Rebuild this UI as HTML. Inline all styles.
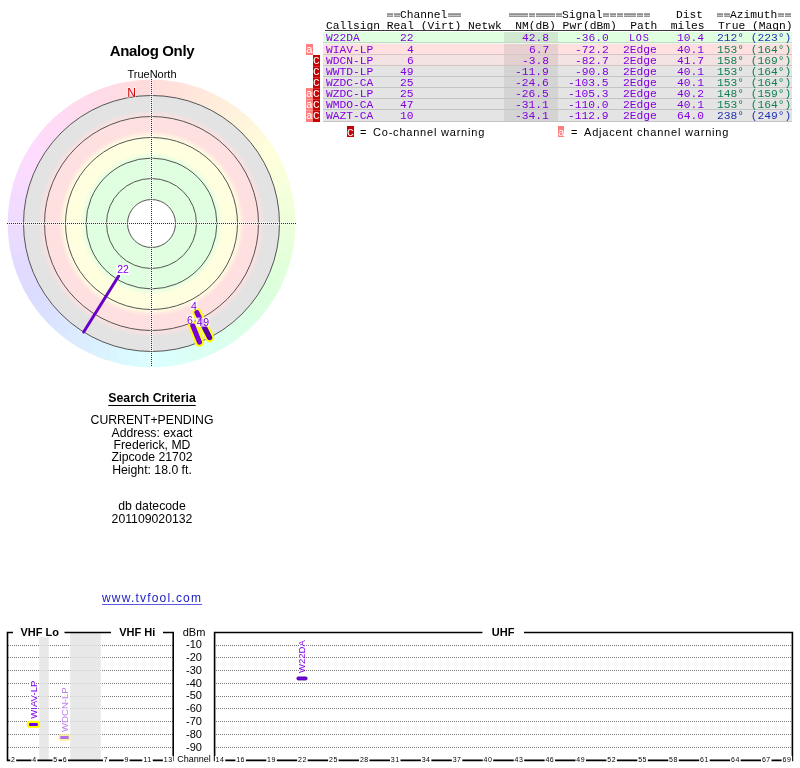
<!DOCTYPE html>
<html><head><meta charset="utf-8"><style>
html,body{margin:0;padding:0;background:#fff;width:800px;height:768px;overflow:hidden}
body{position:relative;font-family:"Liberation Sans",sans-serif}
.m,.sans,svg{will-change:transform}
.abs{position:absolute}
svg{font-family:"Liberation Sans",sans-serif}
.m{position:absolute;font-family:"Liberation Mono",monospace;font-size:11.27px;line-height:12px;white-space:pre}
.eq{position:absolute;top:13px;width:6.2px;height:4px;background:linear-gradient(#a6a6a6 0 1px,#8e8e8e 1px 2px,#c4c4c4 2px 3px,#949494 3px 4px)}
.g{color:#999}
.sans{font-family:"Liberation Sans",sans-serif;white-space:pre}
.wa,.wc{position:absolute;width:7px;height:11px;font-family:"Liberation Mono",monospace;font-size:11.27px;line-height:11px;color:#fff;text-align:center}
.wa{background:#ff8080}
.wc{background:#c00000}
</style></head><body>
<svg class="abs" style="left:0;top:0" width="300" height="380" viewBox="0 0 300 380">
<defs><radialGradient id="rg" cx="151.5" cy="223.5" r="128" gradientUnits="userSpaceOnUse">
<stop offset="0" stop-color="#e0ffe0"/>
<stop offset="0.508" stop-color="#e0ffe0"/>
<stop offset="0.559" stop-color="#ffffe0"/>
<stop offset="0.672" stop-color="#ffffe0"/>
<stop offset="0.723" stop-color="#ffe0e0"/>
<stop offset="0.836" stop-color="#ffe0e0"/>
<stop offset="0.887" stop-color="#e3e3e3"/>
<stop offset="1" stop-color="#e3e3e3"/>
</radialGradient></defs>
<path d="M145.98,79.81 A143.8,143.8 0 0 1 157.02,79.81 L156.39,96.09 A127.5,127.5 0 0 0 146.61,96.09 Z" fill="#ffdbdb"/>
<path d="M156.02,79.77 A143.8,143.8 0 0 1 167.03,80.54 L165.27,96.75 A127.5,127.5 0 0 0 155.50,96.06 Z" fill="#ffdedb"/>
<path d="M166.03,80.44 A143.8,143.8 0 0 1 176.96,81.97 L174.08,98.02 A127.5,127.5 0 0 0 164.38,96.65 Z" fill="#ffe0db"/>
<path d="M175.98,81.80 A143.8,143.8 0 0 1 186.78,84.09 L182.78,99.90 A127.5,127.5 0 0 0 173.20,97.86 Z" fill="#ffe2db"/>
<path d="M185.80,83.85 A143.8,143.8 0 0 1 196.41,86.89 L191.32,102.38 A127.5,127.5 0 0 0 181.91,99.68 Z" fill="#ffe5db"/>
<path d="M195.46,86.58 A143.8,143.8 0 0 1 205.83,90.36 L199.67,105.45 A127.5,127.5 0 0 0 190.48,102.10 Z" fill="#ffe7db"/>
<path d="M204.90,89.98 A143.8,143.8 0 0 1 214.99,94.47 L207.79,109.10 A127.5,127.5 0 0 0 198.85,105.12 Z" fill="#ffeadb"/>
<path d="M214.09,94.03 A143.8,143.8 0 0 1 223.83,99.22 L215.64,113.30 A127.5,127.5 0 0 0 206.99,108.71 Z" fill="#ffecdb"/>
<path d="M222.96,98.72 A143.8,143.8 0 0 1 232.33,104.57 L223.17,118.05 A127.5,127.5 0 0 0 214.86,112.86 Z" fill="#ffeedb"/>
<path d="M231.50,104.00 A143.8,143.8 0 0 1 240.43,110.49 L230.35,123.30 A127.5,127.5 0 0 0 222.43,117.55 Z" fill="#fff1db"/>
<path d="M239.64,109.88 A143.8,143.8 0 0 1 248.09,116.97 L237.14,129.05 A127.5,127.5 0 0 0 229.65,122.76 Z" fill="#fff3db"/>
<path d="M247.35,116.30 A143.8,143.8 0 0 1 255.29,123.97 L243.52,135.25 A127.5,127.5 0 0 0 236.48,128.45 Z" fill="#fff5db"/>
<path d="M254.59,123.25 A143.8,143.8 0 0 1 261.98,131.45 L249.46,141.89 A127.5,127.5 0 0 0 242.91,134.61 Z" fill="#fff8db"/>
<path d="M261.33,130.68 A143.8,143.8 0 0 1 268.13,139.38 L254.91,148.92 A127.5,127.5 0 0 0 248.88,141.20 Z" fill="#fffadb"/>
<path d="M267.54,138.57 A143.8,143.8 0 0 1 273.71,147.72 L259.86,156.31 A127.5,127.5 0 0 0 254.39,148.20 Z" fill="#fffddb"/>
<path d="M273.18,146.87 A143.8,143.8 0 0 1 278.70,156.43 L264.28,164.04 A127.5,127.5 0 0 0 259.39,155.56 Z" fill="#ffffdb"/>
<path d="M278.23,155.55 A143.8,143.8 0 0 1 283.07,165.47 L268.16,172.05 A127.5,127.5 0 0 0 263.87,163.25 Z" fill="#fdffdb"/>
<path d="M282.66,164.55 A143.8,143.8 0 0 1 286.80,174.79 L271.46,180.31 A127.5,127.5 0 0 0 267.80,171.23 Z" fill="#faffdb"/>
<path d="M286.46,173.85 A143.8,143.8 0 0 1 289.87,184.35 L274.18,188.78 A127.5,127.5 0 0 0 271.16,179.47 Z" fill="#f8ffdb"/>
<path d="M289.59,183.38 A143.8,143.8 0 0 1 292.26,194.09 L276.31,197.43 A127.5,127.5 0 0 0 273.94,187.93 Z" fill="#f5ffdb"/>
<path d="M292.05,193.11 A143.8,143.8 0 0 1 293.97,203.98 L277.82,206.20 A127.5,127.5 0 0 0 276.12,196.56 Z" fill="#f3ffdb"/>
<path d="M293.83,202.99 A143.8,143.8 0 0 1 294.98,213.97 L278.72,215.05 A127.5,127.5 0 0 0 277.70,205.31 Z" fill="#f1ffdb"/>
<path d="M294.91,212.97 A143.8,143.8 0 0 1 295.30,224.00 L279.00,223.95 A127.5,127.5 0 0 0 278.66,214.16 Z" fill="#eeffdb"/>
<path d="M295.30,223.00 A143.8,143.8 0 0 1 294.91,234.03 L278.66,232.84 A127.5,127.5 0 0 0 279.00,223.05 Z" fill="#ecffdb"/>
<path d="M294.98,233.03 A143.8,143.8 0 0 1 293.83,244.01 L277.70,241.69 A127.5,127.5 0 0 0 278.72,231.95 Z" fill="#eaffdb"/>
<path d="M293.97,243.02 A143.8,143.8 0 0 1 292.05,253.89 L276.12,250.44 A127.5,127.5 0 0 0 277.82,240.80 Z" fill="#e7ffdb"/>
<path d="M292.26,252.91 A143.8,143.8 0 0 1 289.59,263.62 L273.94,259.07 A127.5,127.5 0 0 0 276.31,249.57 Z" fill="#e5ffdb"/>
<path d="M289.87,262.65 A143.8,143.8 0 0 1 286.46,273.15 L271.16,267.53 A127.5,127.5 0 0 0 274.18,258.22 Z" fill="#e2ffdb"/>
<path d="M286.80,272.21 A143.8,143.8 0 0 1 282.66,282.45 L267.80,275.77 A127.5,127.5 0 0 0 271.46,266.69 Z" fill="#e0ffdb"/>
<path d="M283.07,281.53 A143.8,143.8 0 0 1 278.23,291.45 L263.87,283.75 A127.5,127.5 0 0 0 268.16,274.95 Z" fill="#deffdb"/>
<path d="M278.70,290.57 A143.8,143.8 0 0 1 273.18,300.13 L259.39,291.44 A127.5,127.5 0 0 0 264.28,282.96 Z" fill="#dbffdb"/>
<path d="M273.71,299.28 A143.8,143.8 0 0 1 267.54,308.43 L254.39,298.80 A127.5,127.5 0 0 0 259.86,290.69 Z" fill="#dbffde"/>
<path d="M268.13,307.62 A143.8,143.8 0 0 1 261.33,316.32 L248.88,305.80 A127.5,127.5 0 0 0 254.91,298.08 Z" fill="#dbffe0"/>
<path d="M261.98,315.55 A143.8,143.8 0 0 1 254.59,323.75 L242.91,312.39 A127.5,127.5 0 0 0 249.46,305.11 Z" fill="#dbffe2"/>
<path d="M255.29,323.03 A143.8,143.8 0 0 1 247.35,330.70 L236.48,318.55 A127.5,127.5 0 0 0 243.52,311.75 Z" fill="#dbffe5"/>
<path d="M248.09,330.03 A143.8,143.8 0 0 1 239.64,337.12 L229.65,324.24 A127.5,127.5 0 0 0 237.14,317.95 Z" fill="#dbffe7"/>
<path d="M240.43,336.51 A143.8,143.8 0 0 1 231.50,343.00 L222.43,329.45 A127.5,127.5 0 0 0 230.35,323.70 Z" fill="#dbffea"/>
<path d="M232.33,342.43 A143.8,143.8 0 0 1 222.96,348.28 L214.86,334.14 A127.5,127.5 0 0 0 223.17,328.95 Z" fill="#dbffec"/>
<path d="M223.83,347.78 A143.8,143.8 0 0 1 214.09,352.97 L206.99,338.29 A127.5,127.5 0 0 0 215.64,333.70 Z" fill="#dbffee"/>
<path d="M214.99,352.53 A143.8,143.8 0 0 1 204.90,357.02 L198.85,341.88 A127.5,127.5 0 0 0 207.79,337.90 Z" fill="#dbfff1"/>
<path d="M205.83,356.64 A143.8,143.8 0 0 1 195.46,360.42 L190.48,344.90 A127.5,127.5 0 0 0 199.67,341.55 Z" fill="#dbfff3"/>
<path d="M196.41,360.11 A143.8,143.8 0 0 1 185.80,363.15 L181.91,347.32 A127.5,127.5 0 0 0 191.32,344.62 Z" fill="#dbfff5"/>
<path d="M186.78,362.91 A143.8,143.8 0 0 1 175.98,365.20 L173.20,349.14 A127.5,127.5 0 0 0 182.78,347.10 Z" fill="#dbfff8"/>
<path d="M176.96,365.03 A143.8,143.8 0 0 1 166.03,366.56 L164.38,350.35 A127.5,127.5 0 0 0 174.08,348.98 Z" fill="#dbfffa"/>
<path d="M167.03,366.46 A143.8,143.8 0 0 1 156.02,367.23 L155.50,350.94 A127.5,127.5 0 0 0 165.27,350.25 Z" fill="#dbfffd"/>
<path d="M157.02,367.19 A143.8,143.8 0 0 1 145.98,367.19 L146.61,350.91 A127.5,127.5 0 0 0 156.39,350.91 Z" fill="#dbffff"/>
<path d="M146.98,367.23 A143.8,143.8 0 0 1 135.97,366.46 L137.73,350.25 A127.5,127.5 0 0 0 147.50,350.94 Z" fill="#dbfdff"/>
<path d="M136.97,366.56 A143.8,143.8 0 0 1 126.04,365.03 L128.92,348.98 A127.5,127.5 0 0 0 138.62,350.35 Z" fill="#dbfaff"/>
<path d="M127.02,365.20 A143.8,143.8 0 0 1 116.22,362.91 L120.22,347.10 A127.5,127.5 0 0 0 129.80,349.14 Z" fill="#dbf8ff"/>
<path d="M117.20,363.15 A143.8,143.8 0 0 1 106.59,360.11 L111.68,344.62 A127.5,127.5 0 0 0 121.09,347.32 Z" fill="#dbf5ff"/>
<path d="M107.54,360.42 A143.8,143.8 0 0 1 97.17,356.64 L103.33,341.55 A127.5,127.5 0 0 0 112.52,344.90 Z" fill="#dbf3ff"/>
<path d="M98.10,357.02 A143.8,143.8 0 0 1 88.01,352.53 L95.21,337.90 A127.5,127.5 0 0 0 104.15,341.88 Z" fill="#dbf1ff"/>
<path d="M88.91,352.97 A143.8,143.8 0 0 1 79.17,347.78 L87.36,333.70 A127.5,127.5 0 0 0 96.01,338.29 Z" fill="#dbeeff"/>
<path d="M80.04,348.28 A143.8,143.8 0 0 1 70.67,342.43 L79.83,328.95 A127.5,127.5 0 0 0 88.14,334.14 Z" fill="#dbecff"/>
<path d="M71.50,343.00 A143.8,143.8 0 0 1 62.57,336.51 L72.65,323.70 A127.5,127.5 0 0 0 80.57,329.45 Z" fill="#dbeaff"/>
<path d="M63.36,337.12 A143.8,143.8 0 0 1 54.91,330.03 L65.86,317.95 A127.5,127.5 0 0 0 73.35,324.24 Z" fill="#dbe7ff"/>
<path d="M55.65,330.70 A143.8,143.8 0 0 1 47.71,323.03 L59.48,311.75 A127.5,127.5 0 0 0 66.52,318.55 Z" fill="#dbe5ff"/>
<path d="M48.41,323.75 A143.8,143.8 0 0 1 41.02,315.55 L53.54,305.11 A127.5,127.5 0 0 0 60.09,312.39 Z" fill="#dbe2ff"/>
<path d="M41.67,316.32 A143.8,143.8 0 0 1 34.87,307.62 L48.09,298.08 A127.5,127.5 0 0 0 54.12,305.80 Z" fill="#dbe0ff"/>
<path d="M35.46,308.43 A143.8,143.8 0 0 1 29.29,299.28 L43.14,290.69 A127.5,127.5 0 0 0 48.61,298.80 Z" fill="#dbdeff"/>
<path d="M29.82,300.13 A143.8,143.8 0 0 1 24.30,290.57 L38.72,282.96 A127.5,127.5 0 0 0 43.61,291.44 Z" fill="#dbdbff"/>
<path d="M24.77,291.45 A143.8,143.8 0 0 1 19.93,281.53 L34.84,274.95 A127.5,127.5 0 0 0 39.13,283.75 Z" fill="#dedbff"/>
<path d="M20.34,282.45 A143.8,143.8 0 0 1 16.20,272.21 L31.54,266.69 A127.5,127.5 0 0 0 35.20,275.77 Z" fill="#e0dbff"/>
<path d="M16.54,273.15 A143.8,143.8 0 0 1 13.13,262.65 L28.82,258.22 A127.5,127.5 0 0 0 31.84,267.53 Z" fill="#e2dbff"/>
<path d="M13.41,263.62 A143.8,143.8 0 0 1 10.74,252.91 L26.69,249.57 A127.5,127.5 0 0 0 29.06,259.07 Z" fill="#e5dbff"/>
<path d="M10.95,253.89 A143.8,143.8 0 0 1 9.03,243.02 L25.18,240.80 A127.5,127.5 0 0 0 26.88,250.44 Z" fill="#e7dbff"/>
<path d="M9.17,244.01 A143.8,143.8 0 0 1 8.02,233.03 L24.28,231.95 A127.5,127.5 0 0 0 25.30,241.69 Z" fill="#eadbff"/>
<path d="M8.09,234.03 A143.8,143.8 0 0 1 7.70,223.00 L24.00,223.05 A127.5,127.5 0 0 0 24.34,232.84 Z" fill="#ecdbff"/>
<path d="M7.70,224.00 A143.8,143.8 0 0 1 8.09,212.97 L24.34,214.16 A127.5,127.5 0 0 0 24.00,223.95 Z" fill="#eedbff"/>
<path d="M8.02,213.97 A143.8,143.8 0 0 1 9.17,202.99 L25.30,205.31 A127.5,127.5 0 0 0 24.28,215.05 Z" fill="#f1dbff"/>
<path d="M9.03,203.98 A143.8,143.8 0 0 1 10.95,193.11 L26.88,196.56 A127.5,127.5 0 0 0 25.18,206.20 Z" fill="#f3dbff"/>
<path d="M10.74,194.09 A143.8,143.8 0 0 1 13.41,183.38 L29.06,187.93 A127.5,127.5 0 0 0 26.69,197.43 Z" fill="#f5dbff"/>
<path d="M13.13,184.35 A143.8,143.8 0 0 1 16.54,173.85 L31.84,179.47 A127.5,127.5 0 0 0 28.82,188.78 Z" fill="#f8dbff"/>
<path d="M16.20,174.79 A143.8,143.8 0 0 1 20.34,164.55 L35.20,171.23 A127.5,127.5 0 0 0 31.54,180.31 Z" fill="#fadbff"/>
<path d="M19.93,165.47 A143.8,143.8 0 0 1 24.77,155.55 L39.13,163.25 A127.5,127.5 0 0 0 34.84,172.05 Z" fill="#fddbff"/>
<path d="M24.30,156.43 A143.8,143.8 0 0 1 29.82,146.87 L43.61,155.56 A127.5,127.5 0 0 0 38.72,164.04 Z" fill="#ffdbff"/>
<path d="M29.29,147.72 A143.8,143.8 0 0 1 35.46,138.57 L48.61,148.20 A127.5,127.5 0 0 0 43.14,156.31 Z" fill="#ffdbfd"/>
<path d="M34.87,139.38 A143.8,143.8 0 0 1 41.67,130.68 L54.12,141.20 A127.5,127.5 0 0 0 48.09,148.92 Z" fill="#ffdbfa"/>
<path d="M41.02,131.45 A143.8,143.8 0 0 1 48.41,123.25 L60.09,134.61 A127.5,127.5 0 0 0 53.54,141.89 Z" fill="#ffdbf8"/>
<path d="M47.71,123.97 A143.8,143.8 0 0 1 55.65,116.30 L66.52,128.45 A127.5,127.5 0 0 0 59.48,135.25 Z" fill="#ffdbf5"/>
<path d="M54.91,116.97 A143.8,143.8 0 0 1 63.36,109.88 L73.35,122.76 A127.5,127.5 0 0 0 65.86,129.05 Z" fill="#ffdbf3"/>
<path d="M62.57,110.49 A143.8,143.8 0 0 1 71.50,104.00 L80.57,117.55 A127.5,127.5 0 0 0 72.65,123.30 Z" fill="#ffdbf1"/>
<path d="M70.67,104.57 A143.8,143.8 0 0 1 80.04,98.72 L88.14,112.86 A127.5,127.5 0 0 0 79.83,118.05 Z" fill="#ffdbee"/>
<path d="M79.17,99.22 A143.8,143.8 0 0 1 88.91,94.03 L96.01,108.71 A127.5,127.5 0 0 0 87.36,113.30 Z" fill="#ffdbec"/>
<path d="M88.01,94.47 A143.8,143.8 0 0 1 98.10,89.98 L104.15,105.12 A127.5,127.5 0 0 0 95.21,109.10 Z" fill="#ffdbea"/>
<path d="M97.17,90.36 A143.8,143.8 0 0 1 107.54,86.58 L112.52,102.10 A127.5,127.5 0 0 0 103.33,105.45 Z" fill="#ffdbe7"/>
<path d="M106.59,86.89 A143.8,143.8 0 0 1 117.20,83.85 L121.09,99.68 A127.5,127.5 0 0 0 111.68,102.38 Z" fill="#ffdbe5"/>
<path d="M116.22,84.09 A143.8,143.8 0 0 1 127.02,81.80 L129.80,97.86 A127.5,127.5 0 0 0 120.22,99.90 Z" fill="#ffdbe2"/>
<path d="M126.04,81.97 A143.8,143.8 0 0 1 136.97,80.44 L138.62,96.65 A127.5,127.5 0 0 0 128.92,98.02 Z" fill="#ffdbe0"/>
<path d="M135.97,80.54 A143.8,143.8 0 0 1 146.98,79.77 L147.50,96.06 A127.5,127.5 0 0 0 137.73,96.75 Z" fill="#ffdbde"/>
<circle cx="151.5" cy="223.5" r="128" fill="url(#rg)"/>
<circle cx="151.5" cy="223.5" r="24" fill="#fff"/>
<circle cx="151.5" cy="223.5" r="24" fill="none" stroke="#555" stroke-width="1"/>
<circle cx="151.5" cy="223.5" r="45" fill="none" stroke="#555" stroke-width="1"/>
<circle cx="151.5" cy="223.5" r="65.4" fill="none" stroke="#555" stroke-width="1"/>
<circle cx="151.5" cy="223.5" r="86" fill="none" stroke="#555" stroke-width="1"/>
<circle cx="151.5" cy="223.5" r="107" fill="none" stroke="#555" stroke-width="1"/>
<circle cx="151.5" cy="223.5" r="128" fill="none" stroke="#555" stroke-width="1"/>
<line x1="7" y1="223.5" x2="296.5" y2="223.5" stroke="#fff" stroke-opacity="0.45" stroke-width="3"/>
<line x1="151.5" y1="79" x2="151.5" y2="366.5" stroke="#fff" stroke-opacity="0.45" stroke-width="3"/>
<line x1="7" y1="223.5" x2="296.5" y2="223.5" stroke="#2a2a2a" stroke-width="1" stroke-dasharray="1 1"/>
<line x1="151.5" y1="79" x2="151.5" y2="366.5" stroke="#2a2a2a" stroke-width="1" stroke-dasharray="1 1"/>
<line x1="118.65" y1="276.08" x2="83.67" y2="332.05" stroke="#6a00c8" stroke-width="3" stroke-linecap="round"/>
<line x1="196.90" y1="312.60" x2="209.61" y2="337.55" stroke="#ffff00" stroke-width="9.2" stroke-linecap="round"/><line x1="196.90" y1="312.60" x2="209.61" y2="337.55" stroke="#7a00dd" stroke-width="5" stroke-linecap="round"/>
<line x1="192.71" y1="325.49" x2="199.45" y2="342.18" stroke="#ffff00" stroke-width="9.2" stroke-linecap="round"/><line x1="192.71" y1="325.49" x2="199.45" y2="342.18" stroke="#7a00dd" stroke-width="5" stroke-linecap="round"/>
<line x1="205.07" y1="328.64" x2="209.61" y2="337.55" stroke="#5c00a8" stroke-width="5" stroke-linecap="round"/>
<rect x="116.3" y="265" width="13.4" height="9.8" fill="#fff" fill-opacity="1"/><text x="123" y="273" font-size="10.5" fill="#8000e0" text-anchor="middle">22</text>
<rect x="190.7" y="301" width="6.6" height="8.4" fill="#fff" fill-opacity="0.9"/><text x="194" y="309.5" font-size="10.5" fill="#8000e0" text-anchor="middle">4</text>
<rect x="186.9" y="314.8" width="6.5" height="8.8" fill="#fff" fill-opacity="0.9"/><text x="190" y="324" font-size="10.5" fill="#8000e0" text-anchor="middle">6</text>
<rect x="196" y="317.6" width="13.4" height="9.1" fill="#fff" fill-opacity="0.75"/><text x="203.3" y="326" font-size="10.5" fill="#8000e0" text-anchor="middle"><tspan letter-spacing="0.8">49</tspan></text>
<text x="131.5" y="96.7" font-size="12" fill="#d00000" text-anchor="middle" stroke="#fff" stroke-width="1.5" paint-order="stroke" stroke-opacity="0.6">N</text>
</svg>
<div class="abs sans" style="left:0;width:304px;top:42.6px;text-align:center;font-weight:bold;font-size:15px;letter-spacing:-0.35px;line-height:16px">Analog Only</div>
<div class="abs sans" style="left:0;width:304px;top:67.5px;text-align:center;font-size:11px;line-height:12px">TrueNorth</div>
<div class="abs sans" style="left:0;width:304px;top:390.5px;text-align:center;font-weight:bold;font-size:12.3px;line-height:14px"><span style="text-decoration:underline;text-underline-offset:3px">Search Criteria</span></div>
<div class="abs sans" style="left:0;width:304px;top:412.75px;text-align:center;font-size:12.25px;line-height:14px">CURRENT+PENDING</div>
<div class="abs sans" style="left:0;width:304px;top:425.75px;text-align:center;font-size:12.25px;line-height:14px">Address: exact</div>
<div class="abs sans" style="left:0;width:304px;top:437.75px;text-align:center;font-size:12.25px;line-height:14px">Frederick, MD</div>
<div class="abs sans" style="left:0;width:304px;top:449.75px;text-align:center;font-size:12.25px;line-height:14px">Zipcode 21702</div>
<div class="abs sans" style="left:0;width:304px;top:462.75px;text-align:center;font-size:12.25px;line-height:14px">Height: 18.0 ft.</div>
<div class="abs sans" style="left:0;width:304px;top:498.75px;text-align:center;font-size:12.25px;line-height:14px">db datecode</div>
<div class="abs sans" style="left:0;width:304px;top:511.75px;text-align:center;font-size:12.25px;line-height:14px">201109020132</div>
<div class="abs sans" style="left:102px;top:591px;font-size:12px;letter-spacing:1.2px;line-height:14px;color:#1a1ac4;text-decoration:underline;text-underline-offset:2.2px;text-decoration-color:#5a5ae0">www.tvfool.com</div>
<div class="m" style="left:400.08px;top:9.00px;color:#000;transform:none">Channel</div>
<div class="eq" style="left:386.86px"></div><div class="eq" style="left:393.62px"></div>
<div class="eq" style="left:447.72px"></div><div class="eq" style="left:454.48px"></div>
<div class="m" style="left:562.37px;top:9.00px;color:#000;transform:none">Signal</div>
<div class="eq" style="left:508.57px"></div><div class="eq" style="left:515.34px"></div><div class="eq" style="left:522.10px"></div><div class="eq" style="left:528.86px"></div><div class="eq" style="left:535.62px"></div><div class="eq" style="left:542.38px"></div><div class="eq" style="left:549.15px"></div><div class="eq" style="left:555.91px"></div>
<div class="eq" style="left:603.24px"></div><div class="eq" style="left:610.00px"></div><div class="eq" style="left:616.77px"></div><div class="eq" style="left:623.53px"></div><div class="eq" style="left:630.29px"></div><div class="eq" style="left:637.05px"></div><div class="eq" style="left:643.81px"></div>
<div class="m" style="left:676.31px;top:9.00px;color:#000;transform:none">Dist</div>
<div class="m" style="left:730.42px;top:9.00px;color:#000;transform:none">Azimuth</div>
<div class="eq" style="left:717.20px"></div><div class="eq" style="left:723.96px"></div>
<div class="eq" style="left:777.75px"></div><div class="eq" style="left:784.52px"></div>
<div class="m" style="left:325.70px;top:19.80px;color:#000;transform:none">Callsign Real (Virt) Netwk  NM(dB) Pwr(dBm)  Path  miles  True (Magn)</div>
<div class="abs" style="left:325px;top:29.6px;width:465px;height:1px;background:#3a3a3a"></div>
<div class="abs" style="left:323px;top:32px;width:469px;height:10px;background:#e0ffe0"></div>
<div class="abs" style="left:504px;top:32px;width:54px;height:10px;background:#d0e8d0"></div>
<div class="abs" style="left:323px;top:42px;width:469px;height:1px;background:#c4d8c4"></div>
<div class="m" style="left:325.70px;top:31.90px;color:#8000e0;">W22DA</div>
<div class="m" style="left:400.08px;top:31.90px;color:#8000e0;">22</div>
<div class="m" style="left:521.80px;top:31.90px;color:#8000e0;">42.8</div>
<div class="m" style="left:574.89px;top:31.90px;color:#8000e0;">-36.0</div>
<div class="m" style="left:629.29px;top:32.50px;color:#8000e0;font-size:10.2px;letter-spacing:0.75px">LOS</div>
<div class="m" style="left:676.62px;top:31.90px;color:#8000e0;">10.4</div>
<div class="m" style="left:716.90px;top:31.90px;color:#1f33b4;">212&deg; (223&deg;)</div>
<div class="abs" style="left:323px;top:43px;width:469px;height:11px;background:#ffe0e0"></div>
<div class="abs" style="left:504px;top:43px;width:54px;height:11px;background:#e8d0d0"></div>
<div class="abs" style="left:323px;top:54px;width:469px;height:1px;background:#d8c4c4"></div>
<div class="abs" style="left:323px;top:43px;width:469px;height:1px;background:#eef7ee"></div>
<div class="m" style="left:325.70px;top:43.70px;color:#8000e0;">WIAV-LP</div>
<div class="m" style="left:406.84px;top:43.70px;color:#8000e0;">4</div>
<div class="m" style="left:528.56px;top:43.70px;color:#8000e0;">6.7</div>
<div class="m" style="left:574.89px;top:43.70px;color:#8000e0;">-72.2</div>
<div class="m" style="left:623.23px;top:43.70px;color:#8000e0;">2Edge</div>
<div class="m" style="left:676.62px;top:43.70px;color:#8000e0;">40.1</div>
<div class="m" style="left:716.90px;top:43.70px;color:#108050;">153&deg; (164&deg;)</div>
<div class="abs" style="left:306.1px;top:43.7px;width:6.8px;height:11.1px;background:#ff7f7f"></div>
<div class="m" style="left:306.10px;top:43.70px;color:#fff;transform:none">a</div>
<div class="abs" style="left:323px;top:55px;width:469px;height:10px;background:#f2e2e2"></div>
<div class="abs" style="left:504px;top:55px;width:54px;height:10px;background:#e2d0d0"></div>
<div class="abs" style="left:323px;top:65px;width:469px;height:1px;background:#d2c4c4"></div>
<div class="m" style="left:325.70px;top:54.80px;color:#8000e0;">WDCN-LP</div>
<div class="m" style="left:406.84px;top:54.80px;color:#8000e0;">6</div>
<div class="m" style="left:521.80px;top:54.80px;color:#8000e0;">-3.8</div>
<div class="m" style="left:574.89px;top:54.80px;color:#8000e0;">-82.7</div>
<div class="m" style="left:623.23px;top:54.80px;color:#8000e0;">2Edge</div>
<div class="m" style="left:676.62px;top:54.80px;color:#8000e0;">41.7</div>
<div class="m" style="left:716.90px;top:54.80px;color:#108050;">158&deg; (169&deg;)</div>
<div class="abs" style="left:313.1px;top:54.8px;width:6.9px;height:11.1px;background:#c80000"></div>
<div class="m" style="left:313.10px;top:54.80px;color:#fff;transform:none">C</div>
<div class="abs" style="left:323px;top:66px;width:469px;height:10px;background:#e4e4e4"></div>
<div class="abs" style="left:504px;top:66px;width:54px;height:10px;background:#d4d4d4"></div>
<div class="abs" style="left:323px;top:76px;width:469px;height:1px;background:#c4c4c4"></div>
<div class="m" style="left:325.70px;top:65.80px;color:#8000e0;">WWTD-LP</div>
<div class="m" style="left:400.08px;top:65.80px;color:#8000e0;">49</div>
<div class="m" style="left:515.04px;top:65.80px;color:#8000e0;">-11.9</div>
<div class="m" style="left:574.89px;top:65.80px;color:#8000e0;">-90.8</div>
<div class="m" style="left:623.23px;top:65.80px;color:#8000e0;">2Edge</div>
<div class="m" style="left:676.62px;top:65.80px;color:#8000e0;">40.1</div>
<div class="m" style="left:716.90px;top:65.80px;color:#108050;">153&deg; (164&deg;)</div>
<div class="abs" style="left:313.1px;top:65.8px;width:6.9px;height:11.1px;background:#c80000"></div>
<div class="abs" style="left:313.1px;top:65.8px;width:6.9px;height:1px;background:#d63030"></div>
<div class="m" style="left:313.10px;top:65.80px;color:#fff;transform:none">C</div>
<div class="abs" style="left:323px;top:77px;width:469px;height:10px;background:#e4e4e4"></div>
<div class="abs" style="left:504px;top:77px;width:54px;height:10px;background:#d4d4d4"></div>
<div class="abs" style="left:323px;top:87px;width:469px;height:1px;background:#c4c4c4"></div>
<div class="m" style="left:325.70px;top:76.80px;color:#8000e0;">WZDC-CA</div>
<div class="m" style="left:400.08px;top:76.80px;color:#8000e0;">25</div>
<div class="m" style="left:515.04px;top:76.80px;color:#8000e0;">-24.6</div>
<div class="m" style="left:568.13px;top:76.80px;color:#8000e0;">-103.5</div>
<div class="m" style="left:623.23px;top:76.80px;color:#8000e0;">2Edge</div>
<div class="m" style="left:676.62px;top:76.80px;color:#8000e0;">40.1</div>
<div class="m" style="left:716.90px;top:76.80px;color:#108050;">153&deg; (164&deg;)</div>
<div class="abs" style="left:313.1px;top:76.8px;width:6.9px;height:11.1px;background:#c80000"></div>
<div class="abs" style="left:313.1px;top:76.8px;width:6.9px;height:1px;background:#d63030"></div>
<div class="m" style="left:313.10px;top:76.80px;color:#fff;transform:none">C</div>
<div class="abs" style="left:323px;top:88px;width:469px;height:10px;background:#e4e4e4"></div>
<div class="abs" style="left:504px;top:88px;width:54px;height:10px;background:#d4d4d4"></div>
<div class="abs" style="left:323px;top:98px;width:469px;height:1px;background:#c4c4c4"></div>
<div class="m" style="left:325.70px;top:87.80px;color:#8000e0;">WZDC-LP</div>
<div class="m" style="left:400.08px;top:87.80px;color:#8000e0;">25</div>
<div class="m" style="left:515.04px;top:87.80px;color:#8000e0;">-26.5</div>
<div class="m" style="left:568.13px;top:87.80px;color:#8000e0;">-105.3</div>
<div class="m" style="left:623.23px;top:87.80px;color:#8000e0;">2Edge</div>
<div class="m" style="left:676.62px;top:87.80px;color:#8000e0;">40.2</div>
<div class="m" style="left:716.90px;top:87.80px;color:#108050;">148&deg; (159&deg;)</div>
<div class="abs" style="left:306.1px;top:87.8px;width:6.8px;height:11.1px;background:#ff7f7f"></div>
<div class="m" style="left:306.10px;top:87.80px;color:#fff;transform:none">a</div>
<div class="abs" style="left:313.1px;top:87.8px;width:6.9px;height:11.1px;background:#c80000"></div>
<div class="abs" style="left:313.1px;top:87.8px;width:6.9px;height:1px;background:#d63030"></div>
<div class="m" style="left:313.10px;top:87.80px;color:#fff;transform:none">C</div>
<div class="abs" style="left:323px;top:99px;width:469px;height:10px;background:#e4e4e4"></div>
<div class="abs" style="left:504px;top:99px;width:54px;height:10px;background:#d4d4d4"></div>
<div class="abs" style="left:323px;top:109px;width:469px;height:1px;background:#c4c4c4"></div>
<div class="m" style="left:325.70px;top:99.20px;color:#8000e0;">WMDO-CA</div>
<div class="m" style="left:400.08px;top:99.20px;color:#8000e0;">47</div>
<div class="m" style="left:515.04px;top:99.20px;color:#8000e0;">-31.1</div>
<div class="m" style="left:568.13px;top:99.20px;color:#8000e0;">-110.0</div>
<div class="m" style="left:623.23px;top:99.20px;color:#8000e0;">2Edge</div>
<div class="m" style="left:676.62px;top:99.20px;color:#8000e0;">40.1</div>
<div class="m" style="left:716.90px;top:99.20px;color:#108050;">153&deg; (164&deg;)</div>
<div class="abs" style="left:306.1px;top:98.8px;width:6.8px;height:11.1px;background:#ff7f7f"></div>
<div class="abs" style="left:306.1px;top:98.8px;width:6.8px;height:1px;background:#ff9c9c"></div>
<div class="m" style="left:306.10px;top:99.20px;color:#fff;transform:none">a</div>
<div class="abs" style="left:313.1px;top:98.8px;width:6.9px;height:11.1px;background:#c80000"></div>
<div class="abs" style="left:313.1px;top:98.8px;width:6.9px;height:1px;background:#d63030"></div>
<div class="m" style="left:313.10px;top:99.20px;color:#fff;transform:none">C</div>
<div class="abs" style="left:323px;top:110px;width:469px;height:11px;background:#e4e4e4"></div>
<div class="abs" style="left:504px;top:110px;width:54px;height:11px;background:#d4d4d4"></div>
<div class="abs" style="left:323px;top:121px;width:469px;height:1px;background:#c4c4c4"></div>
<div class="m" style="left:325.70px;top:110.40px;color:#8000e0;">WAZT-CA</div>
<div class="m" style="left:400.08px;top:110.40px;color:#8000e0;">10</div>
<div class="m" style="left:515.04px;top:110.40px;color:#8000e0;">-34.1</div>
<div class="m" style="left:568.13px;top:110.40px;color:#8000e0;">-112.9</div>
<div class="m" style="left:623.23px;top:110.40px;color:#8000e0;">2Edge</div>
<div class="m" style="left:676.62px;top:110.40px;color:#8000e0;">64.0</div>
<div class="m" style="left:716.90px;top:110.40px;color:#1f33b4;">238&deg; (249&deg;)</div>
<div class="abs" style="left:306.1px;top:109.8px;width:6.8px;height:12.3px;background:#ff7f7f"></div>
<div class="abs" style="left:306.1px;top:109.8px;width:6.8px;height:1px;background:#ff9c9c"></div>
<div class="m" style="left:306.10px;top:110.40px;color:#fff;transform:none">a</div>
<div class="abs" style="left:313.1px;top:109.8px;width:6.9px;height:12.3px;background:#c80000"></div>
<div class="abs" style="left:313.1px;top:109.8px;width:6.9px;height:1px;background:#d63030"></div>
<div class="m" style="left:313.10px;top:110.40px;color:#fff;transform:none">C</div>
<div class="abs" style="left:346.75px;top:126px;width:6.75px;height:11px;background:#c80000"></div>
<div class="abs" style="left:346.75px;top:126px;width:6.75px;height:11px;overflow:hidden"><div class="m" style="left:0;top:1px;color:#fff;transform:none">C</div></div>
<div class="abs sans" style="left:360.4px;top:126.2px;font-size:11px;line-height:12px">=</div>
<div class="abs sans" style="left:373px;top:126.2px;font-size:11px;letter-spacing:0.79px;line-height:12px">Co-channel warning</div>
<div class="abs" style="left:557.8px;top:126px;width:6.6px;height:11px;background:#ff7f7f"></div>
<div class="abs" style="left:557.8px;top:126px;width:6.6px;height:11px;overflow:hidden"><div class="m" style="left:0;top:1px;color:#fff;transform:none">a</div></div>
<div class="abs sans" style="left:571.3px;top:126.2px;font-size:11px;line-height:12px">=</div>
<div class="abs sans" style="left:584.4px;top:126.2px;font-size:11px;letter-spacing:0.8px;line-height:12px">Adjacent channel warning</div>
<svg class="abs" style="left:0;top:620px" width="800" height="148" viewBox="0 620 800 148">
<line x1="8" y1="645.5" x2="173" y2="645.5" stroke="#777" stroke-width="1" stroke-dasharray="1 1"/>
<line x1="216" y1="645.5" x2="792" y2="645.5" stroke="#777" stroke-width="1" stroke-dasharray="1 1"/>
<text x="194" y="648" font-size="11" text-anchor="middle">-10</text>
<line x1="8" y1="657.5" x2="173" y2="657.5" stroke="#777" stroke-width="1" stroke-dasharray="1 1"/>
<line x1="216" y1="657.5" x2="792" y2="657.5" stroke="#777" stroke-width="1" stroke-dasharray="1 1"/>
<text x="194" y="661" font-size="11" text-anchor="middle">-20</text>
<line x1="8" y1="670.5" x2="173" y2="670.5" stroke="#777" stroke-width="1" stroke-dasharray="1 1"/>
<line x1="216" y1="670.5" x2="792" y2="670.5" stroke="#777" stroke-width="1" stroke-dasharray="1 1"/>
<text x="194" y="674" font-size="11" text-anchor="middle">-30</text>
<line x1="8" y1="683.5" x2="173" y2="683.5" stroke="#777" stroke-width="1" stroke-dasharray="1 1"/>
<line x1="216" y1="683.5" x2="792" y2="683.5" stroke="#777" stroke-width="1" stroke-dasharray="1 1"/>
<text x="194" y="687" font-size="11" text-anchor="middle">-40</text>
<line x1="8" y1="696.5" x2="173" y2="696.5" stroke="#777" stroke-width="1" stroke-dasharray="1 1"/>
<line x1="216" y1="696.5" x2="792" y2="696.5" stroke="#777" stroke-width="1" stroke-dasharray="1 1"/>
<text x="194" y="699" font-size="11" text-anchor="middle">-50</text>
<line x1="8" y1="708.5" x2="173" y2="708.5" stroke="#777" stroke-width="1" stroke-dasharray="1 1"/>
<line x1="216" y1="708.5" x2="792" y2="708.5" stroke="#777" stroke-width="1" stroke-dasharray="1 1"/>
<text x="194" y="712" font-size="11" text-anchor="middle">-60</text>
<line x1="8" y1="721.5" x2="173" y2="721.5" stroke="#777" stroke-width="1" stroke-dasharray="1 1"/>
<line x1="216" y1="721.5" x2="792" y2="721.5" stroke="#777" stroke-width="1" stroke-dasharray="1 1"/>
<text x="194" y="725" font-size="11" text-anchor="middle">-70</text>
<line x1="8" y1="734.5" x2="173" y2="734.5" stroke="#777" stroke-width="1" stroke-dasharray="1 1"/>
<line x1="216" y1="734.5" x2="792" y2="734.5" stroke="#777" stroke-width="1" stroke-dasharray="1 1"/>
<text x="194" y="738" font-size="11" text-anchor="middle">-80</text>
<line x1="8" y1="747.5" x2="173" y2="747.5" stroke="#777" stroke-width="1" stroke-dasharray="1 1"/>
<line x1="216" y1="747.5" x2="792" y2="747.5" stroke="#777" stroke-width="1" stroke-dasharray="1 1"/>
<text x="194" y="751" font-size="11" text-anchor="middle">-90</text>
<rect x="39.2" y="637" width="9.6" height="123" fill="#e4e4e4" fill-opacity="0.85"/>
<rect x="70.2" y="633" width="30.6" height="127" fill="#e4e4e4" fill-opacity="0.85"/>
<text x="194" y="635.8" font-size="11" text-anchor="middle">dBm</text>
<text x="194" y="761.8" font-size="9" text-anchor="middle">Channel</text>
<path d="M13,632.5 H7.5 V760.4 H173.2 V632.5 H163" fill="none" stroke="#000" stroke-width="1.6"/>
<path d="M64.5,632.5 H111" fill="none" stroke="#000" stroke-width="1.6"/>
<path d="M482.4,632.5 H214.6 V760.4 H792.4 V632.5 H524" fill="none" stroke="#000" stroke-width="1.6"/>
<text x="20.4" y="635.8" font-size="11" font-weight="bold">VHF Lo</text>
<text x="119.2" y="635.8" font-size="11" font-weight="bold">VHF Hi</text>
<text x="491.8" y="635.8" font-size="11" font-weight="bold">UHF</text>
<rect x="10.2" y="756" width="6.0" height="6.5" fill="#fff"/><text x="13.2" y="762" font-size="7" letter-spacing="0.5" text-anchor="middle">2</text>
<rect x="31.4" y="756" width="6.0" height="6.5" fill="#fff"/><text x="34.4" y="762" font-size="7" letter-spacing="0.5" text-anchor="middle">4</text>
<rect x="52.5" y="756" width="6.0" height="6.5" fill="#fff"/><text x="55.5" y="762" font-size="7" letter-spacing="0.5" text-anchor="middle">5</text>
<rect x="62.0" y="756" width="6.0" height="6.5" fill="#fff"/><text x="65.0" y="762" font-size="7" letter-spacing="0.5" text-anchor="middle">6</text>
<rect x="103.0" y="756" width="6.0" height="6.5" fill="#fff"/><text x="106.0" y="762" font-size="7" letter-spacing="0.5" text-anchor="middle">7</text>
<rect x="123.6" y="756" width="6.0" height="6.5" fill="#fff"/><text x="126.6" y="762" font-size="7" letter-spacing="0.5" text-anchor="middle">9</text>
<rect x="142.3" y="756" width="10.5" height="6.5" fill="#fff"/><text x="147.6" y="762" font-size="7" letter-spacing="0.5" text-anchor="middle">11</text>
<rect x="162.9" y="756" width="10.5" height="6.5" fill="#fff"/><text x="168.2" y="762" font-size="7" letter-spacing="0.5" text-anchor="middle">13</text>
<rect x="214.8" y="756" width="10.5" height="6.5" fill="#fff"/><text x="220.0" y="762" font-size="7" letter-spacing="0.5" text-anchor="middle">14</text>
<rect x="235.4" y="756" width="10.5" height="6.5" fill="#fff"/><text x="240.6" y="762" font-size="7" letter-spacing="0.5" text-anchor="middle">16</text>
<rect x="266.3" y="756" width="10.5" height="6.5" fill="#fff"/><text x="271.5" y="762" font-size="7" letter-spacing="0.5" text-anchor="middle">19</text>
<rect x="297.2" y="756" width="10.5" height="6.5" fill="#fff"/><text x="302.5" y="762" font-size="7" letter-spacing="0.5" text-anchor="middle">22</text>
<rect x="328.1" y="756" width="10.5" height="6.5" fill="#fff"/><text x="333.4" y="762" font-size="7" letter-spacing="0.5" text-anchor="middle">25</text>
<rect x="359.0" y="756" width="10.5" height="6.5" fill="#fff"/><text x="364.3" y="762" font-size="7" letter-spacing="0.5" text-anchor="middle">28</text>
<rect x="390.0" y="756" width="10.5" height="6.5" fill="#fff"/><text x="395.2" y="762" font-size="7" letter-spacing="0.5" text-anchor="middle">31</text>
<rect x="420.9" y="756" width="10.5" height="6.5" fill="#fff"/><text x="426.1" y="762" font-size="7" letter-spacing="0.5" text-anchor="middle">34</text>
<rect x="451.8" y="756" width="10.5" height="6.5" fill="#fff"/><text x="457.1" y="762" font-size="7" letter-spacing="0.5" text-anchor="middle">37</text>
<rect x="482.7" y="756" width="10.5" height="6.5" fill="#fff"/><text x="488.0" y="762" font-size="7" letter-spacing="0.5" text-anchor="middle">40</text>
<rect x="513.7" y="756" width="10.5" height="6.5" fill="#fff"/><text x="518.9" y="762" font-size="7" letter-spacing="0.5" text-anchor="middle">43</text>
<rect x="544.6" y="756" width="10.5" height="6.5" fill="#fff"/><text x="549.8" y="762" font-size="7" letter-spacing="0.5" text-anchor="middle">46</text>
<rect x="575.5" y="756" width="10.5" height="6.5" fill="#fff"/><text x="580.7" y="762" font-size="7" letter-spacing="0.5" text-anchor="middle">49</text>
<rect x="606.4" y="756" width="10.5" height="6.5" fill="#fff"/><text x="611.7" y="762" font-size="7" letter-spacing="0.5" text-anchor="middle">52</text>
<rect x="637.3" y="756" width="10.5" height="6.5" fill="#fff"/><text x="642.6" y="762" font-size="7" letter-spacing="0.5" text-anchor="middle">55</text>
<rect x="668.3" y="756" width="10.5" height="6.5" fill="#fff"/><text x="673.5" y="762" font-size="7" letter-spacing="0.5" text-anchor="middle">58</text>
<rect x="699.2" y="756" width="10.5" height="6.5" fill="#fff"/><text x="704.4" y="762" font-size="7" letter-spacing="0.5" text-anchor="middle">61</text>
<rect x="730.1" y="756" width="10.5" height="6.5" fill="#fff"/><text x="735.4" y="762" font-size="7" letter-spacing="0.5" text-anchor="middle">64</text>
<rect x="761.0" y="756" width="10.5" height="6.5" fill="#fff"/><text x="766.3" y="762" font-size="7" letter-spacing="0.5" text-anchor="middle">67</text>
<rect x="781.6" y="756" width="10.5" height="6.5" fill="#fff"/><text x="786.9" y="762" font-size="7" letter-spacing="0.5" text-anchor="middle">69</text>
<rect x="296.9" y="676.9" width="10.2" height="3.1" rx="1.2" fill="#7400e8" stroke="#4a0090" stroke-width="0.8"/>
<text x="0" y="0" transform="translate(305,673) rotate(-90)" font-size="9.5" fill="#8000e0" stroke="#fff" stroke-width="2" paint-order="stroke">W22DA</text>
<rect x="27" y="720.8" width="13" height="7.2" rx="2.6" fill="#ffff00"/>
<rect x="29" y="723" width="8.9" height="2.9" rx="1" fill="#7000e0"/>
<text x="0" y="0" transform="translate(36.8,718.8) rotate(-90)" font-size="9.6" fill="#8000e0" stroke="#fff" stroke-width="2" paint-order="stroke">WIAV-LP</text>
<rect x="58.3" y="734.3" width="12.3" height="6.4" rx="2.4" fill="#f8f0a0"/>
<rect x="60.1" y="736.1" width="8.7" height="2.8" rx="1" fill="#b070f0"/>
<text x="0" y="0" transform="translate(67.8,732) rotate(-90)" font-size="9.6" fill="#c080f0" stroke="#fff" stroke-width="2" paint-order="stroke">WDCN-LP</text>
</svg>
</body></html>
